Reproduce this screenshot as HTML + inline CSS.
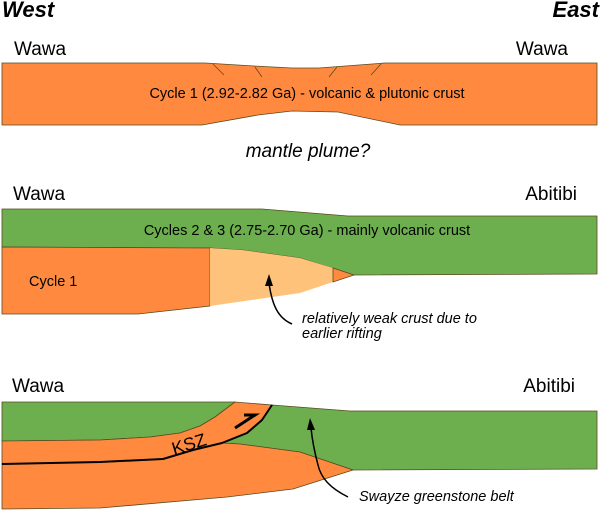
<!DOCTYPE html>
<html><head><meta charset="utf-8"><style>
html,body{margin:0;padding:0;background:#fff;width:600px;height:510px;overflow:hidden}
svg text{font-family:"Liberation Sans",sans-serif;fill:#000}
</style></head><body>
<svg width="600" height="510" viewBox="0 0 600 510" xmlns="http://www.w3.org/2000/svg">
<g stroke="#5a4a20" stroke-width="0.8">
<!-- panel 1 -->
<path d="M2,63 L205,63 L254,66 L292,68 L319,68 L385,63 L597,63 L597,125 L400,125 L338,112 L292,111 L258,115 L202,125 L2,125 Z" fill="#FF8A3F"/>
<line x1="213" y1="64" x2="224" y2="75"/><line x1="255" y1="67" x2="262" y2="77"/>
<line x1="337" y1="67" x2="329" y2="77"/><line x1="381" y1="64" x2="371" y2="75"/>
<!-- panel 2 -->
<path d="M2,209 L262,209 L348,216 L597,216 L597,274 L354,275 L300,258 L242,250 L210,248 L2,247 Z" fill="#6DAF4F"/>
<path d="M2,247 L210,248 L210,306 L138,314 L2,314 Z" fill="#FF8A3F"/>
<path d="M210,248 L242,250 L300,258 L333,268 L333,282 L300,293 L210,306 Z" fill="#FFC27A" stroke="none"/>
<path d="M333,268 L354,275 L333,282 Z" fill="#FF8A3F"/>
<!-- panel 3 -->
<path d="M2,402 L235,402 L215,417 L200,426 L180,433 L150,437 L100,440 L2,441 Z" fill="#6DAF4F"/>
<path d="M272,405 L350,411 L597,411 L597,469 L353,470 L300,452 L240,444 L222,443 L247,433 L262,420 Z" fill="#6DAF4F"/>
<path d="M2,441 L100,440 L150,437 L180,433 L200,426 L215,417 L235,402 L272,405 L262,420 L247,433 L222,443 L193,450 L163,459 L100,462 L2,464 Z" fill="#FF8A3F"/>
<path d="M2,464 L100,462 L163,459 L193,450 L222,443 L240,444 L300,452 L353,470 L293,489 L227,497 L100,508 L2,509 Z" fill="#FF8A3F"/>
</g>
<path d="M2,464 L100,462 L163,459 L193,450 L222,443 L247,433 L262,420 L272,405" fill="none" stroke="#000" stroke-width="2" stroke-linejoin="round"/>
<path d="M235,428 L255,415 L244,415" fill="none" stroke="#000" stroke-width="3"/>
<!-- arrows -->
<path d="M292,324 C278,318 272,305 269,283" fill="none" stroke="#000" stroke-width="1.5"/>
<path d="M265,286 L269,274 L273,286 Z" fill="#000"/>
<path d="M348,497 C330,488 321,478 318,465 C314,450 312,438 311,428" fill="none" stroke="#000" stroke-width="1.5"/>
<path d="M307,430 L310,418 L315,430 Z" fill="#000"/>
<!-- text -->
<text x="2" y="17" font-size="22" font-weight="bold" font-style="italic">West</text>
<text x="599" y="17" font-size="22" font-weight="bold" font-style="italic" text-anchor="end">East</text>
<text x="14" y="55" font-size="19">Wawa</text>
<text x="568" y="55" font-size="19" text-anchor="end">Wawa</text>
<text x="307" y="98" font-size="14.5" text-anchor="middle">Cycle 1 (2.92-2.82 Ga) - volcanic &amp; plutonic crust</text>
<text x="308" y="157" font-size="19" font-style="italic" text-anchor="middle">mantle plume?</text>
<text x="13" y="200" font-size="19">Wawa</text>
<text x="577" y="200" font-size="19" text-anchor="end">Abitibi</text>
<text x="307" y="235" font-size="14.5" text-anchor="middle">Cycles 2 &amp; 3 (2.75-2.70 Ga) - mainly volcanic crust</text>
<text x="29" y="286" font-size="14.5">Cycle 1</text>
<text x="302" y="323" font-size="14.5" font-style="italic">relatively weak crust due to</text>
<text x="302" y="338" font-size="14.5" font-style="italic">earlier rifting</text>
<text x="12" y="392" font-size="19">Wawa</text>
<text x="575" y="392" font-size="19" text-anchor="end">Abitibi</text>
<text x="174" y="455" font-size="18" transform="rotate(-17 174 455)">KSZ</text>
<text x="359" y="501" font-size="14.5" font-style="italic">Swayze greenstone belt</text>
</svg>
</body></html>
